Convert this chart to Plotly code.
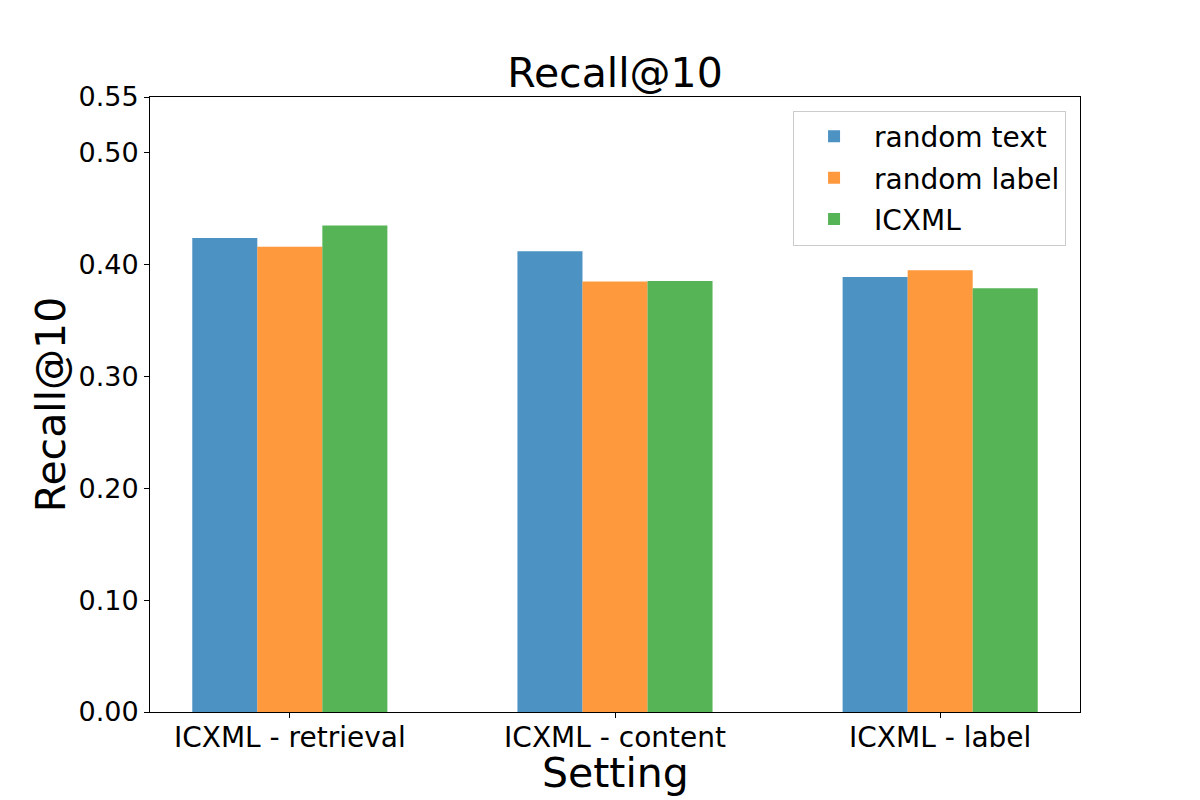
import plotly.graph_objects as go

categories = ["ICXML - retrieval", "ICXML - content", "ICXML - label"]
series_names = ["random text", "random label", "ICXML"]
random_text = [0.424, 0.412, 0.389]
random_label = [0.416, 0.385, 0.395]
icxml = [0.435, 0.3855, 0.379]
y_ticks = [0.0, 0.1, 0.2, 0.3, 0.4, 0.5, 0.55]
y_tick_labels = ["0.00", "0.10", "0.20", "0.30", "0.40", "0.50", "0.55"]

colors = ["rgba(31,119,180,0.8)", "rgba(255,127,14,0.8)", "rgba(44,160,44,0.8)"]
font = "DejaVu Sans"

fig = go.Figure()
for i, (name, vals, c) in enumerate(zip(series_names, [random_text, random_label, icxml], colors)):
    fig.add_trace(go.Bar(x=categories, y=vals, name=name, legendgroup=f"g{i}",
                         marker=dict(color=c, line=dict(width=0)), width=0.2))

fig.update_layout(
    barmode="group",
    bargap=0.4,
    bargroupgap=0,
    width=1200, height=800,
    plot_bgcolor="white", paper_bgcolor="white",
    margin=dict(l=142, r=128, t=89, b=96),
    font=dict(family=font, color="black", size=27),
    title=dict(text="Recall@10", x=0.5, xanchor="center", xref="paper", y=1, yref="paper",
               yanchor="bottom", pad=dict(b=10), font=dict(size=41, family=font, color="black")),
    legend=dict(x=0.985, y=0.978, xanchor="right", yanchor="top",
                bordercolor="#cccccc", borderwidth=1, bgcolor="rgba(255,255,255,0.8)",
                font=dict(size=28, family=font, color="black"), itemwidth=70,
                traceorder="grouped", tracegroupgap=2),
    showlegend=True,
    annotations=[dict(text="Setting", x=0.5, xref="paper", y=-0.099, yref="paper",
                      xanchor="center", yanchor="middle", showarrow=False,
                      font=dict(size=41, family=font, color="black"))],
)
fig.update_xaxes(
    range=[-0.43, 2.43], showline=True, linecolor="black", linewidth=1, mirror=True,
    ticks="outside", ticklen=5, tickcolor="black", tickfont=dict(size=28, family=font),
    ticklabelstandoff=-5,
    showgrid=False,
)
fig.update_yaxes(
    range=[0, 0.55], tickvals=y_ticks, ticktext=y_tick_labels,
    showline=True, linecolor="black", linewidth=1, mirror=True,
    ticks="outside", ticklen=5, tickcolor="black", tickfont=dict(size=27, family=font),
    title=dict(text="Recall@10", font=dict(size=41, family=font), standoff=0),
    showgrid=False, zeroline=False,
)
fig.write_html("out.html")
